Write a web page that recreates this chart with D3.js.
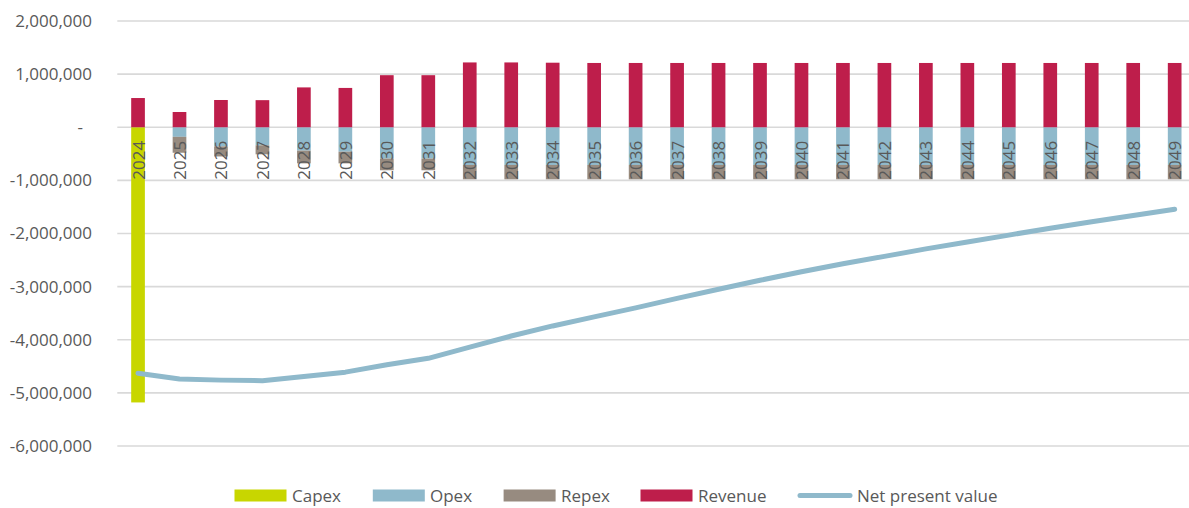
<!DOCTYPE html>
<html>
<head>
<meta charset="utf-8">
<script src="https://cdn.jsdelivr.net/npm/d3@7"></script>
<style>
  html, body { margin: 0; padding: 0; background: #fff; }
  svg { display: block; font-family: "Open Sans", "Noto Sans", sans-serif; }
</style>
</head>
<body>
<svg id="chart" width="1189" height="508"></svg>
<script>
// ---- data ----
const years = [2024,2025,2026,2027,2028,2029,2030,2031,2032,2033,2034,2035,2036,2037,2038,2039,2040,2041,2042,2043,2044,2045,2046,2047,2048,2049];
const capex = [-5180000,0,0,0,0,0,0,0,0,0,0,0,0,0,0,0,0,0,0,0,0,0,0,0,0,0];
const opex = [0,-180000,-360000,-340000,-440000,-460000,-590000,-590000,-710000,-710000,-710000,-710000,-710000,-710000,-710000,-710000,-710000,-710000,-710000,-710000,-710000,-710000,-710000,-710000,-710000,-710000];
const repex = [0,-300000,-190000,-170000,-240000,-220000,-220000,-220000,-270000,-270000,-270000,-270000,-270000,-270000,-270000,-270000,-270000,-270000,-270000,-270000,-270000,-270000,-270000,-270000,-270000,-270000];
const revenue = [550000,287000,513000,510000,750000,740000,980000,980000,1220000,1220000,1215000,1210000,1210000,1210000,1210000,1210000,1210000,1210000,1210000,1210000,1210000,1210000,1210000,1210000,1210000,1210000];
const npv = [-4630000,-4740000,-4760000,-4770000,-4690000,-4610000,-4470000,-4350000,-4140000,-3930000,-3740000,-3570000,-3400000,-3220000,-3050000,-2880000,-2720000,-2570000,-2430000,-2290000,-2160000,-2030000,-1900000,-1780000,-1660000,-1545000];
const yTicks = [-6000000,-5000000,-4000000,-3000000,-2000000,-1000000,0,1000000,2000000];
const seriesNames = ["Capex","Opex","Repex","Revenue"];
const lineName = "Net present value";

const colors = { Capex: "#c8d600", Opex: "#8fb9cb", Repex: "#978b80", Revenue: "#be1e4b", NPV: "#8fb9cb" };

// ---- build table ----
const table = years.map((yr, i) => ({ year: yr, Capex: capex[i], Opex: opex[i], Repex: repex[i], Revenue: revenue[i] }));

const svg = d3.select("#chart");
const plotLeft = 117.3, plotRight = 1195.4, plotTop = 21, plotBottom = 446;

const x = d3.scaleBand().domain(years).range([plotLeft, plotRight]).paddingInner(0).paddingOuter(0);
const y = d3.scaleLinear().domain([-6000000, 2000000]).range([plotBottom, plotTop]);
const barW = x.bandwidth() * 0.33;
const cx = d => x(d) + x.bandwidth() / 2;

// gridlines
svg.append("g").selectAll("line").data(yTicks).join("line")
  .attr("x1", plotLeft).attr("x2", plotRight)
  .attr("y1", d => y(d)).attr("y2", d => y(d))
  .attr("stroke", "#d9d9d9").attr("stroke-width", 1.6);

// y axis labels
const fmt = d3.formatLocale({ decimal: ".", thousands: ",", grouping: [3], currency: ["", ""], minus: "-" }).format(",");
const yAxis = d3.axisLeft(y).tickValues(yTicks).tickSize(0).tickPadding(0)
  .tickFormat(d => d === 0 ? "-" : fmt(d));
const yg = svg.append("g").attr("transform", "translate(92,0)").call(yAxis);
yg.select(".domain").remove();
yg.selectAll("text").attr("fill", "#595959").attr("font-size", 17)
  .attr("font-family", "'Open Sans', sans-serif")
  .attr("dx", d => d === 0 ? -9 : 0);

// stacked bars
const stackKeys = ["Opex","Repex","Capex","Revenue"];
const stacked = d3.stack().keys(stackKeys).offset(d3.stackOffsetDiverging)(table);
svg.append("g").selectAll("g").data(stacked).join("g")
  .attr("fill", s => colors[s.key])
  .selectAll("rect").data(s => s).join("rect")
  .attr("x", d => cx(d.data.year) - barW / 2)
  .attr("width", barW)
  .attr("y", d => y(Math.max(d[0], d[1])))
  .attr("height", d => Math.abs(y(d[0]) - y(d[1])));

// category labels (rotated, overlaid)
const xAxis = d3.axisBottom(x).tickSize(0).tickPadding(0);
const xg = svg.append("g").attr("transform", `translate(0,${y(0)})`).call(xAxis);
xg.select(".domain").remove();
xg.selectAll("text")
  .attr("fill", "#595959").attr("font-size", 17)
  .attr("font-family", "'Open Sans', sans-serif")
  .attr("text-anchor", "end")
  .attr("dy", null)
  .attr("y", 0)
  .attr("dominant-baseline", "central")
  .attr("transform", "translate(0,13.5) rotate(-90)");

// NPV line
const line = d3.line().x((d, i) => cx(years[i])).y(d => y(d));
svg.append("path").datum(npv)
  .attr("d", line).attr("fill", "none")
  .attr("stroke", colors.NPV).attr("stroke-width", 5)
  .attr("stroke-linecap", "round").attr("stroke-linejoin", "round");

// legend
const legendItems = [
  { name: "Capex", type: "rect", color: colors.Capex, x: 234.5, tx: 292 },
  { name: "Opex", type: "rect", color: colors.Opex, x: 372.8, tx: 430 },
  { name: "Repex", type: "rect", color: colors.Repex, x: 503.6, tx: 561 },
  { name: "Revenue", type: "rect", color: colors.Revenue, x: 640.5, tx: 698 },
  { name: lineName, type: "line", color: colors.NPV, x: 797, tx: 857 }
];
const ly = 495.5;
const lg = svg.append("g");
legendItems.forEach(it => {
  if (it.type === "rect") {
    lg.append("rect").attr("x", it.x).attr("y", ly - 6).attr("width", 52).attr("height", 12).attr("fill", it.color);
  } else {
    lg.append("line").attr("x1", it.x + 3).attr("x2", it.x + 53).attr("y1", ly).attr("y2", ly)
      .attr("stroke", it.color).attr("stroke-width", 5).attr("stroke-linecap", "round");
  }
  lg.append("text").attr("x", it.tx).attr("y", ly).attr("dominant-baseline", "central")
    .attr("fill", "#595959").attr("font-size", 17).text(it.name);
});
</script>
</body>
</html>
